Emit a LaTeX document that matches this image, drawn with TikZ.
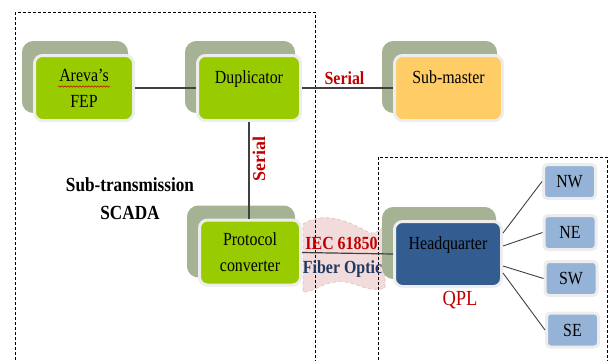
\documentclass[tikz,border=0pt]{standalone}
\usepackage{fontspec}
\setmainfont[FakeStretch=0.86]{Liberation Serif}
\newfontfamily\uprightserif{Liberation Serif}
\usepackage{tikz}
\usetikzlibrary{positioning}
\usetikzlibrary{shadows}
\usetikzlibrary{decorations.pathmorphing}
\definecolor{unitgreen}{HTML}{99CC00}
\definecolor{shadowgreen}{HTML}{A5B294}
\definecolor{mastergold}{HTML}{FFCC66}
\definecolor{hqblue}{HTML}{335D91}
\definecolor{zoneblue}{HTML}{95B3D7}
\definecolor{rimgray}{HTML}{EDEDED}
\definecolor{linkgray}{HTML}{404040}
\definecolor{labelred}{HTML}{C00000}
\definecolor{labelnavy}{HTML}{1F3864}
\definecolor{cloudpink}{HTML}{F2DCDB}
\definecolor{cloudrim}{HTML}{E6B9B8}
\tikzstyle{unit} = [rectangle, rounded corners=8pt, draw=rimgray, line width=3pt,
    fill=unitgreen, minimum height=65pt, align=center, inner sep=0pt,
    font=\fontsize{18.5}{26}\selectfont,
    general shadow={fill=shadowgreen, draw=shadowgreen, line width=7pt,
        shadow xshift=-9pt, shadow yshift=11pt}]
\tikzstyle{oneline} = [text height=13pt, text depth=22pt]
\tikzstyle{zone} = [rectangle, rounded corners=4pt, draw=rimgray, line width=3pt,
    fill=zoneblue, minimum width=52pt, minimum height=34pt, inner sep=0pt,
    font=\fontsize{18.5}{22}\selectfont]
\tikzstyle{link} = [draw=linkgray, line width=1.2pt]
\tikzstyle{area} = [black, line width=0.8pt, dash pattern=on 3pt off 2pt]
\tikzset{tag/.style={font=\fontsize{18.5}{22}\selectfont\bfseries, text=labelred,
    inner sep=3pt}}

\begin{document}
\begin{tikzpicture}[x=1pt,y=-1pt]
\useasboundingbox (0,0) rectangle (609,360);
\begin{scope}
    %fiber cloud
    \filldraw[fill=cloudpink, draw=cloudrim, dashed, line width=0.6pt]
        (303,224) .. controls (325,210) and (350,222) .. (368,232)
        .. controls (376,236) and (382,228) .. (385,224) -- (385,288)
        .. controls (365,294) and (355,279) .. (335,282)
        .. controls (320,284) and (312,293) .. (303,292) -- cycle;
    %areas
    \draw[area] (15.5,360) -- (15.5,12) -- (315,12) -- (315,360);
    \draw[area] (378,360) -- (378,157) -- (607.5,157) -- (607.5,360);
    %units
    \node[unit, minimum width=99pt] (fep) at (84,88) {Areva’s\\FEP};
    \node[unit, oneline, minimum width=103pt] (dup) at (249,88) {Duplicator};
    \node[unit, oneline, minimum width=108pt, fill=mastergold] (sub) at (448.5,88) {Sub-master};
    \node[unit, minimum width=101pt] (conv) at (250,252.5) {Protocol\\converter};
    \node[unit, oneline, minimum width=107pt, fill=hqblue] (hq) at (448,254) {Headquarter};
    \draw[labelred, line width=0.5pt, decorate,
        decoration={snake, amplitude=0.7pt, segment length=3pt}] (58,86.5) -- (110,86.5);
    %zones
    \node[zone] (nw) at (569.5,181.5) {NW};
    \node[zone] (ne) at (570,232.5) {NE};
    \node[zone] (sw) at (571,278.5) {SW};
    \node[zone] (se) at (572.5,330) {SE};
    %links
    \draw[link] (fep.east) -- (dup.west);
    \draw[link] (dup.east) -- node[tag, above, xshift=-3pt] {Serial} (sub.west);
    \draw[link] (dup.south) -- node[tag, pos=0.38, anchor=north, rotate=90,
        font=\fontsize{18}{22}\selectfont\uprightserif\bfseries] {Serial}
        (dup.south |- conv.north);
    \draw[link] (conv.east) -- node[tag, above, xshift=-6pt] {IEC 61850}
        node[tag, below, xshift=-5pt, yshift=-4pt, text=labelnavy] {Fiber Optic} (hq.west);
    \draw[link, line width=0.9pt] ([yshift=21pt]hq.east) -- (nw.west);
    \draw[link, line width=0.9pt] ([yshift=8pt]hq.east) -- (ne.west);
    \draw[link, line width=0.9pt] ([yshift=-12pt]hq.east) -- (sw.west);
    \draw[link, line width=0.9pt] ([yshift=-19pt]hq.east) -- (se.west);
    %labels
    \node[font=\fontsize{20}{28}\selectfont\bfseries, align=center] (scada) at (130,199)
        {Sub-transmission\\SCADA};
    \node[font=\fontsize{21.5}{24}\selectfont, text=labelred] (qpl) at (460,300) {QPL};
\end{scope}
\end{tikzpicture}
\end{document}
